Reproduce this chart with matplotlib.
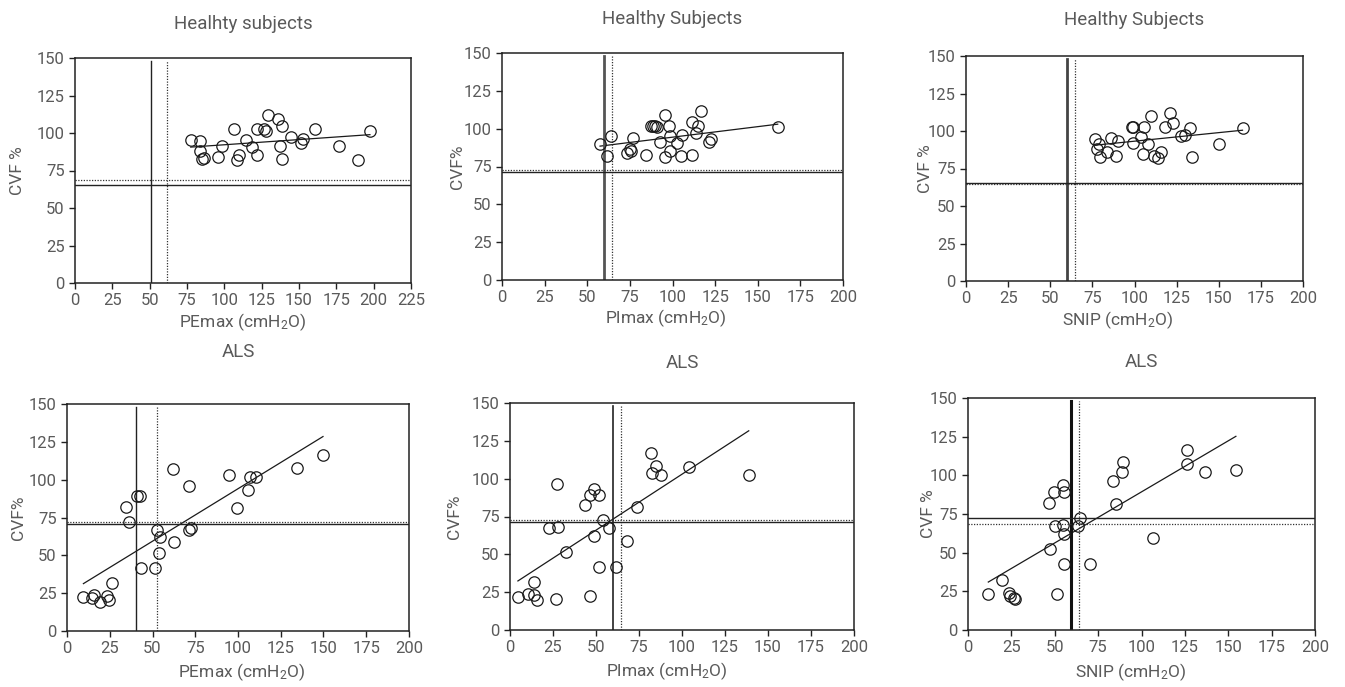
import numpy as np
import matplotlib
matplotlib.use("Agg")
import matplotlib.pyplot as plt

plt.rcParams['font.family'] = ['Roboto', 'DejaVu Sans']
plt.rcParams['font.weight'] = 'normal'
plt.rcParams['axes.labelweight'] = 'normal'
plt.rcParams['mathtext.fontset'] = 'custom'
plt.rcParams['mathtext.rm'] = 'Roboto'
plt.rcParams['mathtext.default'] = 'rm'

# ---- data ----
# healthy, PEmax
h_pe_x = [77.5, 83.7, 83.5, 84.8, 86.6, 95.5, 98.7, 106.5, 109.6, 108.5, 114.5, 118.5, 121.7, 121.7,
          126.6, 127.9, 129.5, 135.7, 138.4, 137.5, 138.4, 144.4, 151.3, 152.5, 160.5, 176.6, 189.7, 197.5]
h_pe_y = [95.3, 94.4, 87.7, 82.4, 83.3, 84.2, 91.3, 102.5, 85.5, 81.7, 95.3, 90.4, 85.5, 102.5,
          102.5, 101.6, 111.8, 109.4, 104.9, 91.1, 83.0, 97.1, 93.1, 96.2, 102.5, 91.1, 82.1, 101.6]
# healthy, PImax
h_pi_x = [57.5, 61.6, 63.7, 73.5, 74.9, 75.7, 76.6, 84.7, 87.2, 88.8, 89.9, 91.1, 92.9, 95.4, 95.6,
          97.8, 98.7, 98.7, 102.6, 104.8, 105.8, 111.6, 111.6, 113.8, 114.8, 116.7, 121.6, 122.8, 161.7]
h_pi_y = [90.1, 81.9, 95.2, 83.7, 86.8, 85.0, 93.8, 82.8, 102.0, 102.0, 101.5, 101.1, 91.0, 109.3, 81.5,
          101.8, 94.9, 85.5, 90.5, 81.7, 96.0, 104.6, 82.6, 97.1, 102.0, 111.9, 91.0, 93.2, 101.3]
# healthy, SNIP
h_sn_x = [76.8, 78.8, 77.8, 79.8, 83.5, 85.9, 88.8, 90.0, 98.5, 99.1, 98.9, 103.9, 104.8, 105.8,
          108.0, 109.8, 111.7, 113.9, 115.9, 117.9, 120.8, 123.0, 127.7, 129.9, 132.9, 134.1, 150.0, 164.1]
h_sn_y = [94.4, 91.1, 87.8, 82.6, 85.7, 95.5, 83.5, 93.5, 102.4, 102.4, 91.8, 95.8, 84.4, 102.4,
          91.1, 109.8, 83.5, 81.7, 85.7, 102.4, 112.2, 105.1, 96.4, 97.6, 101.8, 82.4, 91.5, 101.8]
# ALS, PEmax
a_pe_x = [9.6, 14.4, 15.6, 19.5, 23.4, 24.6, 26.5, 34.5, 36.5, 41.2, 42.5, 43.5, 51.5, 52.5,
          53.7, 54.4, 61.7, 62.4, 71.2, 72.6, 71.6, 94.6, 99.5, 105.6, 107.3, 110.6, 134.4, 149.7]
a_pe_y = [22.5, 21.6, 23.8, 19.4, 22.9, 20.7, 31.8, 81.8, 71.7, 88.9, 88.9, 41.7, 41.7, 66.8,
          51.8, 61.8, 107.0, 58.7, 66.8, 67.9, 96.0, 103.0, 81.0, 93.1, 101.9, 101.9, 107.9, 116.0]
# ALS, PImax
a_pi_x = [4.6, 10.5, 13.7, 13.7, 15.7, 22.5, 26.5, 27.5, 27.7, 32.7, 43.8, 46.5, 46.5, 48.6,
          48.8, 51.5, 51.5, 53.8, 57.5, 61.8, 67.8, 73.6, 81.7, 82.5, 84.6, 87.7, 103.8, 138.8]
a_pi_y = [21.6, 23.8, 31.7, 22.9, 19.6, 67.1, 20.7, 96.3, 68.0, 51.7, 82.3, 89.1, 22.7, 62.2,
          93.2, 89.1, 41.8, 72.4, 67.1, 41.8, 58.9, 81.2, 116.8, 103.6, 108.4, 102.5, 107.5, 102.5]
# ALS, SNIP
a_sn_x = [11.7, 19.4, 23.5, 24.0, 26.5, 26.9, 46.5, 47.5, 49.4, 50.4, 51.3, 54.6, 54.6, 55.6,
          55.6, 55.6, 63.5, 64.4, 70.6, 83.5, 85.4, 88.7, 89.6, 106.5, 126.5, 126.5, 136.7, 154.4]
a_sn_y = [23.2, 32.3, 24.2, 22.3, 20.6, 19.9, 82.3, 52.2, 89.4, 67.3, 23.2, 93.5, 68.2, 89.4,
          62.3, 42.4, 67.3, 72.7, 42.4, 96.3, 81.4, 102.4, 108.4, 59.5, 116.5, 107.4, 102.4, 103.5]

# cut-off lines: (solid x, dotted x, solid y, dotted y)
cut_h_pe = [50.7, 61.6, 65.4, 68.5]
cut_h_pi = [60.0, 64.3, 71.1, 72.5]
cut_h_sn = [59.8, 64.6, 65.5, 64.8]
cut_a_pe = [40.6, 52.9, 71.0, 71.9]
cut_a_pi = [60.0, 64.3, 71.3, 72.4]
cut_a_sn = [59.6, 64.2, 72.5, 68.4]

titles = ["Healhty subjects", "Healthy Subjects", "Healthy Subjects", "ALS", "ALS", "ALS"]
xlabels = ["PEmax (cmH$_2$O)", "Plmax (cmH$_2$O)", "SNIP (cmH$_2$O)",
           "PEmax (cmH$_2$O)", "Plmax (cmH$_2$O)", "SNIP (cmH$_2$O)"]
ylabels = ["CVF %", "CVF%", "CVF %", "CVF%", "CVF%", "CVF %"]
xmaxes = [225, 200, 200, 200, 200, 200]

panels = [(h_pe_x, h_pe_y, cut_h_pe), (h_pi_x, h_pi_y, cut_h_pi), (h_sn_x, h_sn_y, cut_h_sn),
          (a_pe_x, a_pe_y, cut_a_pe), (a_pi_x, a_pi_y, cut_a_pi), (a_sn_x, a_sn_y, cut_a_sn)]

# axes boxes in pixels (left, top, right, bottom)
boxes = [(75, 58, 411, 283), (502, 53, 843, 280), (966, 56, 1303, 281),
         (67, 404, 409, 631), (510, 403, 854, 630), (968, 398, 1315, 630)]
title_y = [24, 19, 20, 352, 363, 362]
ylab_x = [18, 457, 925, 18, 455, 928]
xlab_y = [322, 318, 320, 672, 671, 672]
xlab_frac = [0.5, 0.48, 0.45, 0.51, 0.455, 0.47]
vline_w = [1.0, 2.0, 2.0, 1.0, 1.2, 2.2]
vline_c = ['#222222', '#555555', '#444444', '#222222', '#222222', '#111111']

W, H = 1345, 687
fig = plt.figure(figsize=(W / 100, H / 100), dpi=100)
txt = '#5a5a5a'

for i, (xs, ys, cut) in enumerate(panels):
    l, t, r, b = boxes[i]
    ax = fig.add_axes([l / W, 1 - b / H, (r - l) / W, (b - t) / H])
    xs = np.array(xs)
    ys = np.array(ys)
    ax.plot(xs, ys, 'o', mfc='none', mec='#1a1a1a', ms=8.2, mew=0.9, zorder=3)
    k, c = np.polyfit(xs, ys, 1)
    fx = np.array([xs.min(), xs.max()])
    ax.plot(fx, k * fx + c, color='#1a1a1a', lw=0.9, zorder=2)
    ax.axvline(cut[0], ymax=0.985, color=vline_c[i], lw=vline_w[i])
    ax.axvline(cut[1], ymax=0.985, color='#333333', lw=0.9, ls=(0, (1, 1.2)))
    ax.axhline(cut[2], color='#222222', lw=1.0)
    ax.axhline(cut[3], color='#333333', lw=0.9, ls=(0, (1, 1.2)))

    ax.set_xlim(0, xmaxes[i])
    ax.set_ylim(0, 150)
    ax.set_xticks(np.arange(0, xmaxes[i] + 1, 25))
    ax.set_yticks(np.arange(0, 151, 25))
    ax.tick_params(direction='out', length=4, width=1, colors='#222222',
                   labelcolor=txt, labelsize=12)
    for s in ax.spines.values():
        s.set_color('#222222')
        s.set_linewidth(1.1)
    ax.set_xlabel(xlabels[i], fontsize=12.5, color=txt)
    ax.xaxis.set_label_coords(xlab_frac[i], (b - xlab_y[i]) / (b - t))
    ax.xaxis.label.set_va('center')
    ax.set_ylabel(ylabels[i], fontsize=12.5, color=txt)
    ax.yaxis.set_label_coords((ylab_x[i] - l) / (r - l), 0.5)
    ax.yaxis.label.set_va('center')
    fig.text((l + r) / 2 / W, 1 - title_y[i] / H, titles[i], ha='center', va='center',
             fontsize=13.5, color=txt)

fig.savefig('out.png', dpi=100)
